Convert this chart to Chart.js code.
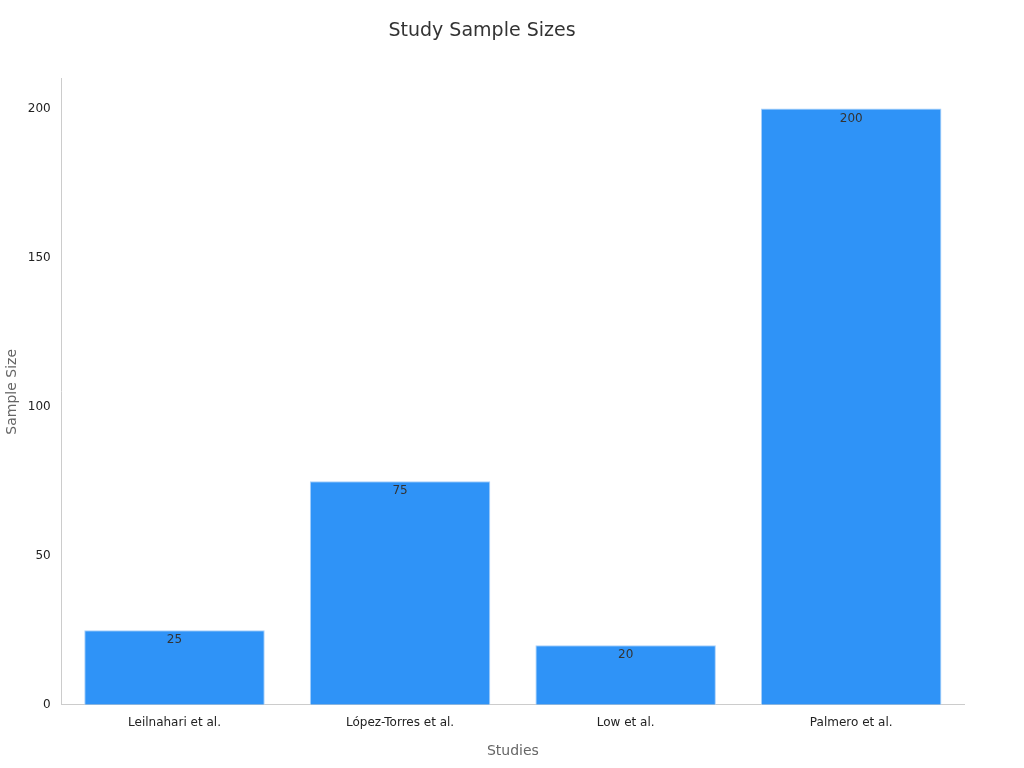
<!DOCTYPE html>
<html>
<head>
<meta charset="utf-8">
<script src="https://cdn.jsdelivr.net/npm/chart.js@4/dist/chart.umd.min.js"></script>
<style>
	body { margin: 0; background: #fff; }
	#wrap { width: 1024px; height: 768px; }
</style>
</head>
<body>
<div id="wrap"><canvas id="barChart"></canvas></div>
<script>
const studies = ['Leilnahari et al.', 'López-Torres et al.', 'Low et al.', 'Palmero et al.'];
const sampleSizes = [25, 75, 20, 200];

Chart.defaults.font.family = 'DejaVu Sans';

// draw the value just under the top of each bar
const valueLabels = {
	id: 'valueLabels',
	afterDatasetsDraw(chart) {
		const ctx = chart.ctx;
		ctx.save();
		ctx.fillStyle = '#333';
		ctx.font = '12px DejaVu Sans';
		ctx.textAlign = 'center';
		ctx.textBaseline = 'top';
		chart.getDatasetMeta(0).data.forEach((bar, i) => {
			ctx.fillText(sampleSizes[i], bar.x, bar.y + 4);
		});
		ctx.restore();
	},
};

const ctx = document.getElementById('barChart').getContext('2d');
new Chart(ctx, {
	type: 'bar',
	data: {
		labels: studies,
		datasets: [
			{
				data: sampleSizes,
				backgroundColor: '#2f93f7',
				borderColor: '#a8d0fa',
				borderWidth: 1,
				barPercentage: 0.8,
				categoryPercentage: 1,
			},
		],
	},
	options: {
		responsive: true,
		maintainAspectRatio: false,
		animation: false,
		layout: { padding: { left: 0, right: 60, top: 10, bottom: 4 } },
		plugins: {
			legend: { display: false },
			tooltip: { enabled: false },
			title: {
				display: true,
				text: 'Study Sample Sizes',
				color: '#333',
				font: { size: 19, weight: 'normal' },
				padding: { top: 10, bottom: 36 },
			},
		},
		scales: {
			x: {
				grid: { display: false },
				border: { color: '#ccc' },
				ticks: { color: '#222', font: { size: 12 } },
				title: { display: true, text: 'Studies', color: '#666', font: { size: 14 }, padding: { top: 10 } },
			},
			y: {
				min: 0,
				max: 210,
				grid: { display: false, drawTicks: true },
				border: { color: '#ccc' },
				ticks: {
					stepSize: 50,
					color: '#222',
					font: { size: 12 },
					callback: (v) => (v % 50 === 0 ? v : ''),
				},
				title: { display: true, text: 'Sample Size', color: '#666', font: { size: 14 } },
			},
		},
	},
	plugins: [valueLabels],
});
</script>
</body>
</html>
